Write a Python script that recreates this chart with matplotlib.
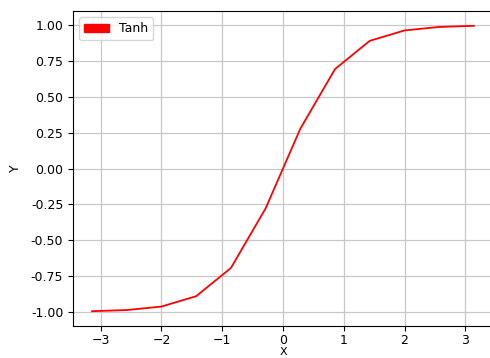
import matplotlib
matplotlib.use("Agg")
import matplotlib.pyplot as plt
import matplotlib.patches as mpatches

x_vals = [-3.1416, -2.5704, -1.9992, -1.4280, -0.8568, -0.2856,
          0.2856, 0.8568, 1.4280, 1.9992, 2.5704, 3.1416]
y_vals = [-0.9963, -0.9884, -0.9640, -0.8915, -0.6946, -0.2781,
          0.2781, 0.6946, 0.8915, 0.9640, 0.9884, 0.9963]
series_name = "Tanh"

plt.rcParams['font.size'] = 9
fig = plt.figure(figsize=(4.9, 3.58), dpi=100)
W, H = 490, 358
ax = fig.add_axes([73 / W, 1 - 326 / H, (493 - 73) / W, (326 - 11) / H])
ax.plot(x_vals, y_vals, color='red', lw=1.3)
ax.set_xlim(-3.456, 3.456)
ax.set_ylim(-1.0998, 1.0998)
ax.set_xticks([-3, -2, -1, 0, 1, 2, 3])
ax.set_yticks([-1.0, -0.75, -0.5, -0.25, 0.0, 0.25, 0.5, 0.75, 1.0])
ax.yaxis.set_major_formatter(matplotlib.ticker.FormatStrFormatter('%.2f'))
ax.tick_params(axis='x', pad=2)
ax.grid(True, color='#c8c8c8', lw=0.9)
ax.set_axisbelow(True)
ax.set_xlabel('X', labelpad=0, fontsize=8)
ax.set_ylabel('Y', labelpad=6)
handle = mpatches.Patch(color='red', label=series_name)
ax.legend(handles=[handle], loc='upper left')
fig.savefig('out.png', dpi=100)
